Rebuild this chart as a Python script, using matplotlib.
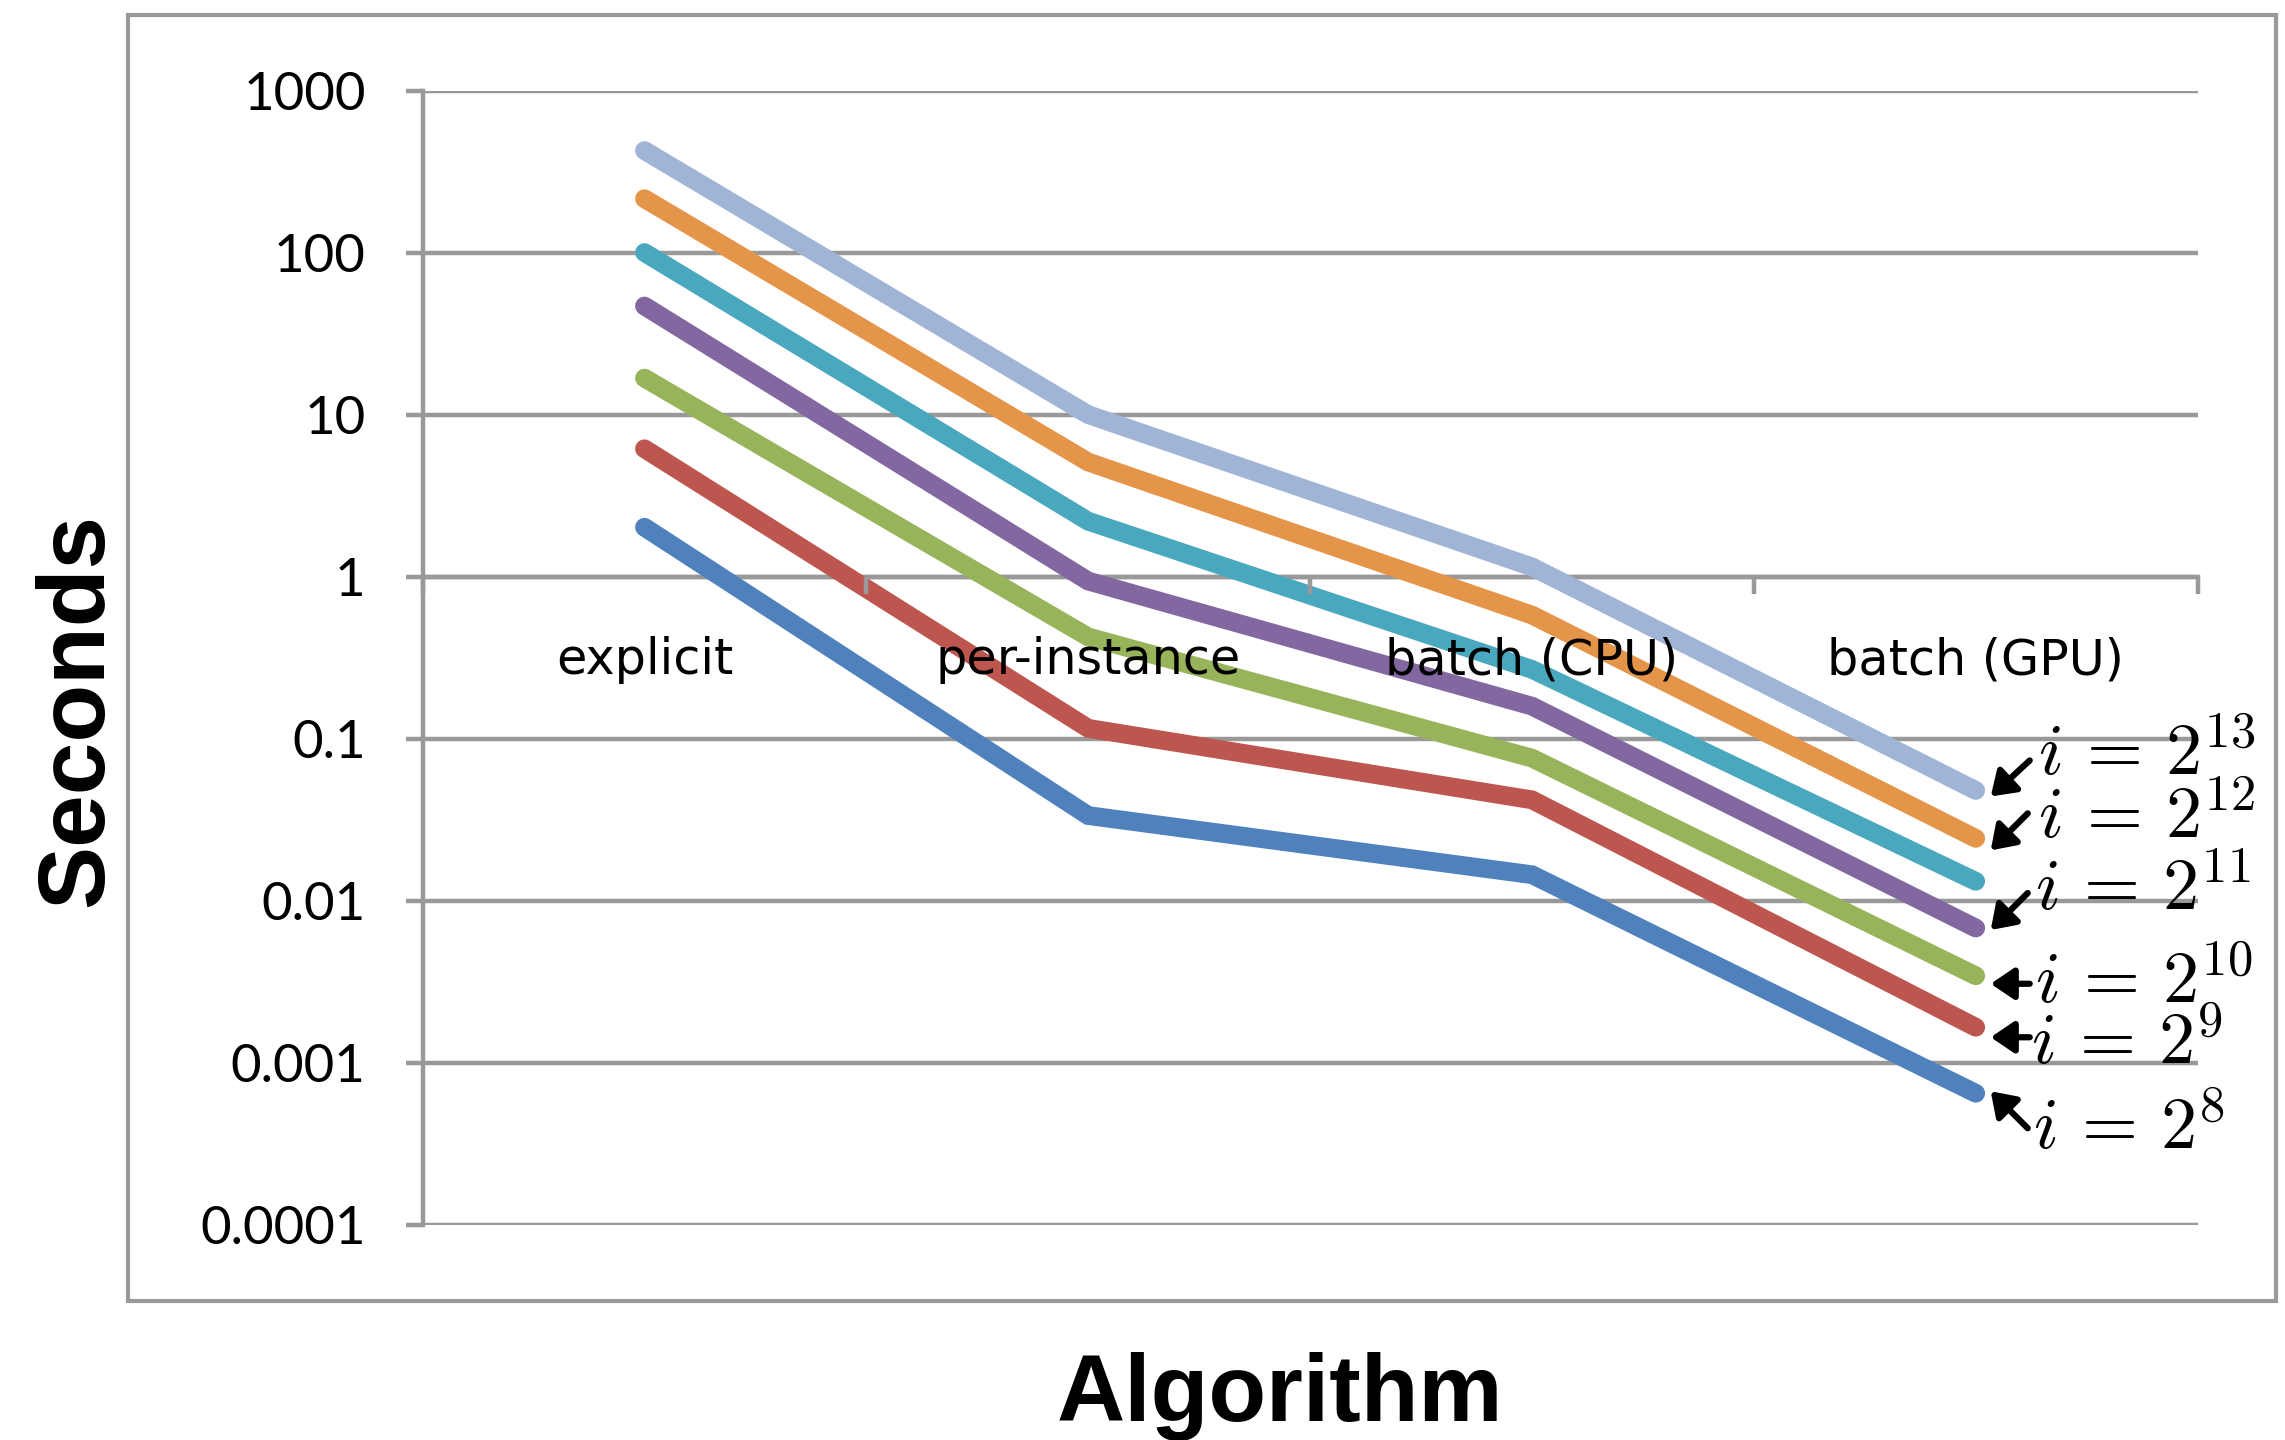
import matplotlib
matplotlib.use("Agg")
import matplotlib.pyplot as plt
from matplotlib.patches import Rectangle
from matplotlib.text import OffsetFrom
from matplotlib.ticker import FixedLocator, FixedFormatter, NullLocator

# data (seconds, log scale)
categories = ["explicit", "per-instance", "batch (CPU)", "batch (GPU)"]
ytick_values = [1e-4, 1e-3, 1e-2, 1e-1, 1, 10, 100, 1000]
ytick_labels = ["0.0001", "0.001", "0.01", "0.1", "1", "10", "100", "1000"]

t_i8 = [2.02, 0.0336, 0.0145, 0.00065]
t_i9 = [6.16, 0.116, 0.042, 0.00166]
t_i10 = [16.8, 0.425, 0.076, 0.00345]
t_i11 = [46.8, 0.94, 0.159, 0.0068]
t_i11b = [100, 2.2, 0.268, 0.0132]
t_i12 = [215, 5.1, 0.58, 0.0243]
t_i13 = [426, 10.0, 1.15, 0.048]
series = [t_i8, t_i9, t_i10, t_i11, t_i11b, t_i12, t_i13]

# which line each label points at (index into series)
labels = [r"$i\,=\,2^{8}$", r"$i\,=\,2^{9}$", r"$i\,=\,2^{10}$",
          r"$i\,=\,2^{11}$", r"$i\,=\,2^{12}$", r"$i\,=\,2^{13}$"]
label_series = [0, 1, 2, 3, 5, 6]

colors = ["#4F81BD", "#BE5650", "#98B45B", "#8267A0", "#4AA8BE", "#E5954A", "#A0B4D6"]
# offsets in pixels from the end of the line: text (x, y), arrow head, arrow tail
text_off = [(57, -56), (55, -37), (59, -27), (59, 18), (62, 0), (62, 15)]
head_off = [(15, 2), (15, -10), (15, -8), (15, -2), (15, -12), (15, -6)]
tail_off = [(52, -35), (54, -10), (54, -8), (52, 35), (52, 25), (54, 30)]

GRAY = "#999999"
W, H = 2285, 1440


def main():
    plt.rcParams["mathtext.fontset"] = "cm"
    fig = plt.figure(figsize=(W / 100, H / 100), dpi=100)
    ax = fig.add_axes([422.6 / W, 1 - 1225 / H, 1775 / W, (1225 - 90.5) / H])

    x = list(range(len(categories)))
    for vals, c in zip(series, colors):
        ax.plot(x, vals, color=c, lw=13.5, solid_capstyle="round",
                solid_joinstyle="miter", zorder=3)

    ax.set_yscale("log")
    ax.set_ylim(1e-4, 1e3)
    ax.set_xlim(-0.5, len(categories) - 0.5)

    ax.yaxis.set_major_locator(FixedLocator(ytick_values))
    ax.yaxis.set_major_formatter(FixedFormatter(ytick_labels))
    ax.yaxis.set_minor_locator(NullLocator())
    ax.tick_params(axis="y", direction="out", length=12, width=3.2, color=GRAY,
                   pad=29, labelsize=38)
    for lab in ax.get_yticklabels():
        lab.set_fontfamily("Lato")

    bounds = [i - 0.5 for i in range(len(categories) + 1)]
    ax.xaxis.set_major_locator(FixedLocator(bounds))
    ax.xaxis.set_major_formatter(FixedFormatter([""] * len(bounds)))
    ax.xaxis.set_minor_locator(FixedLocator(x))
    ax.xaxis.set_minor_formatter(FixedFormatter(categories))
    ax.tick_params(axis="x", which="major", direction="out", length=12, width=3.2,
                   color=GRAY)
    ax.tick_params(axis="x", which="minor", length=0, pad=43, labelsize=35.5)
    for lab in ax.get_xticklabels(minor=True):
        lab.set_fontfamily("Lato")

    ax.grid(axis="y", color=GRAY, lw=3.2)
    ax.set_axisbelow(True)
    ax.xaxis.set_zorder(4)

    for s in ("top", "right"):
        ax.spines[s].set_visible(False)
    ax.spines["bottom"].set_position(("data", 1))
    for s in ("left", "bottom"):
        ax.spines[s].set_color(GRAY)
        ax.spines[s].set_linewidth(3.2)

    xe = x[-1]
    for lab, si, to, ho, tl in zip(labels, label_series, text_off, head_off, tail_off):
        ref = OffsetFrom(ax.transData, (xe, series[si][-1]), unit="pixels")
        ax.annotate(lab, xy=to, xycoords=ref, ha="left", va="baseline",
                    fontsize=52, annotation_clip=False)
        ax.annotate("", xy=ho, xycoords=ref,
                    xytext=(tl[0] - ho[0], tl[1] - ho[1]), textcoords="offset pixels",
                    arrowprops=dict(arrowstyle="-|>,head_length=1.4,head_width=0.95",
                                    mutation_scale=10, color="k", lw=4.5,
                                    shrinkA=0, shrinkB=0),
                    annotation_clip=False)

    fig.text(102 / W, 1 - 710 / H, "Seconds", rotation=90, rotation_mode="anchor",
             ha="center", va="baseline", fontsize=68, fontweight="bold",
             family="Liberation Sans")
    fig.text(1279.5 / W, 1 - 1421 / H, "Algorithm", ha="center", va="baseline",
             fontsize=68, fontweight="bold", family="Liberation Sans")

    frame = Rectangle((128 / W, 1 - 1301 / H), (2276 - 128) / W, (1301 - 14.6) / H,
                      transform=fig.transFigure, fill=False, ec=GRAY, lw=3)
    fig.add_artist(frame)

    fig.savefig("out.png", dpi=100)


if __name__ == "__main__":
    main()
